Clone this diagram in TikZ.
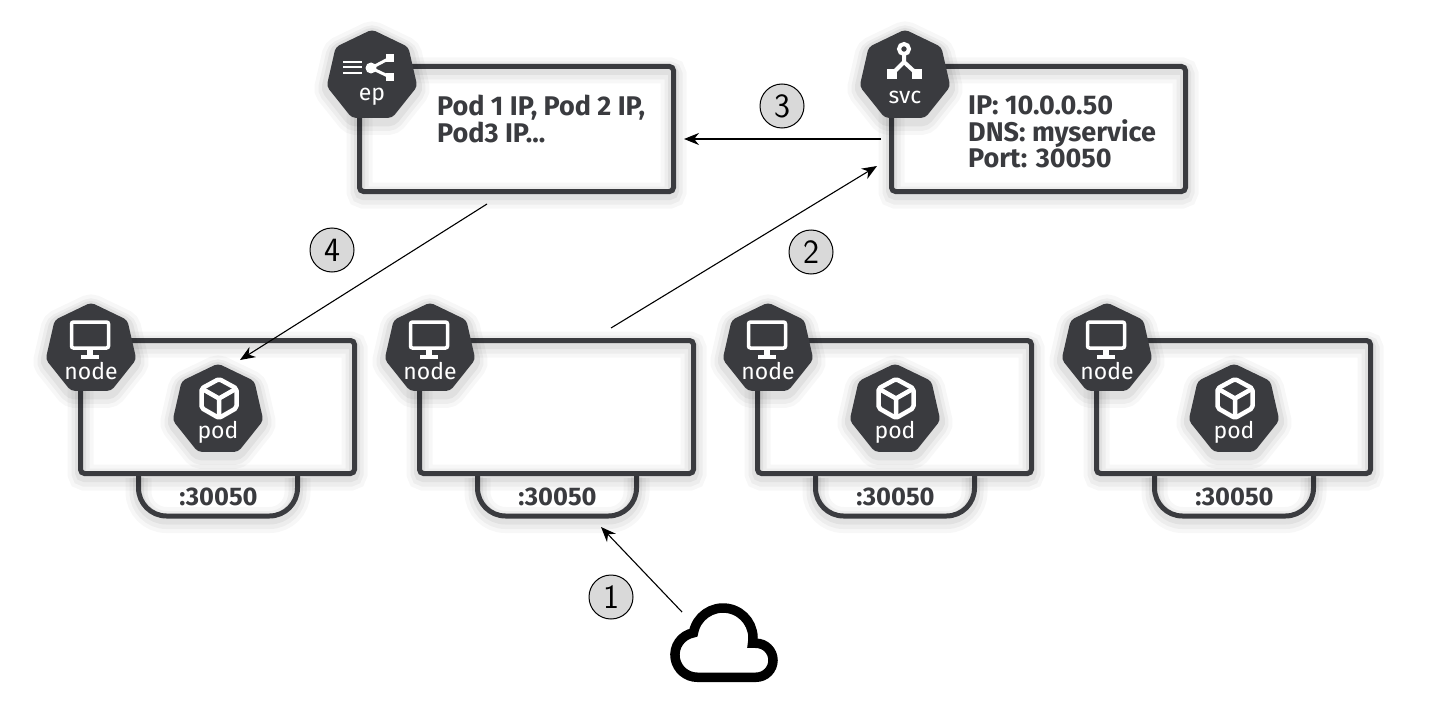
\documentclass[tikz,border=0pt]{standalone}
\usepackage{fontspec}
\setmainfont{Fira Sans}
\usetikzlibrary{arrows.meta,shapes.geometric}
\definecolor{k8sdark}{HTML}{3A3B3F}
\definecolor{stepgray}{HTML}{D9D9D9}
\tikzset{
    softshadow/.style={
        preaction={draw=black,draw opacity=.03,line width=26pt,transform canvas={yshift=-4pt}},
        preaction={draw=black,draw opacity=.04,line width=18pt,transform canvas={yshift=-4pt}},
        preaction={draw=black,draw opacity=.05,line width=11pt,transform canvas={yshift=-3pt}}},
    hostbox/.style={draw=k8sdark,preaction={fill=white},line width=5pt,rounded corners=4pt,inner sep=0pt,softshadow},
    porttab/.style={draw=k8sdark,preaction={fill=white},line width=5pt,softshadow},
    hepta/.style={regular polygon,regular polygon sides=7,minimum size=93pt,inner sep=0pt,
        fill=k8sdark,rounded corners=4pt,softshadow},
    heptatext/.style={text=white,font=\fontsize{23}{23}\selectfont,inner sep=0pt},
    infotext/.style={text=k8sdark,font=\fontsize{27}{26.5}\selectfont\bfseries,align=left,anchor=north west,inner sep=0pt},
    porttext/.style={text=k8sdark,font=\fontsize{25.5}{25.5}\selectfont\bfseries,inner sep=0pt},
    stepmark/.style={circle,draw=black,fill=stepgray,line width=1pt,minimum size=44pt,inner sep=0pt,
        font=\sffamily\fontsize{34}{34}\selectfont},
    flow/.style={-{Stealth[length=15pt,width=12pt]},line width=1.1pt,black},
    iconline/.style={draw=white,line width=4.5pt,line join=round}
}
\begin{document}
\begin{tikzpicture}[x=1pt,y=-1pt]
    \useasboundingbox (0,0) rectangle (1434,706);

    % worker machines
    \foreach \i/\x in {1/217.5,2/556.5,3/894.5,4/1233.5} {
        \draw[porttab,rounded corners=28pt] (\x-79,474) -- (\x-79,516) -- (\x+80,516) -- (\x+80,474);
        \node[hostbox,minimum width=274pt,minimum height=133pt] (host\i) at (\x,407) {};
        \node[porttext] (port\i) at (\x+1,497) {:30050};
        \node[hepta] (hept\i) at (\x-126.5,349) {};
        \node[heptatext] (lbl\i) at (\x-126.5,371) {node};
        \draw[draw=white,line width=3.5pt,rounded corners=2pt] (\x-146,322) rectangle (\x-109,348);
        \fill[white] (\x-130.5,350) rectangle (\x-124.5,355);
        \fill[white] (\x-136.5,355) rectangle (\x-118.5,358.5);
    }

    % pods
    \foreach \i/\x in {1/218,3/895,4/1234} {
        \node[hepta] (pod\i) at (\x,410) {};
        \node[heptatext] (podlbl\i) at (\x,432) {pod};
        \draw[iconline,rounded corners=2pt] (\x+1,379) -- (\x+18.5,388.5) -- (\x+18.5,408) -- (\x+1,418) -- (\x-16.5,408) -- (\x-16.5,388.5) -- cycle;
        \draw[iconline] (\x-16.5,388.5) -- (\x+1,398.5) -- (\x+18.5,388.5) (\x+1,398.5) -- (\x+1,418);
    }

    % endpoints
    \node[hostbox,minimum width=314pt,minimum height=125pt] (epbox) at (516.5,129) {};
    \node[infotext] (eptext) at (437,95) {Pod 1 IP, Pod 2 IP,\\Pod3 IP...};
    \node[hepta] (ephept) at (372,76) {};
    \node[heptatext] (eplbl) at (372,97) {ep};
    \draw[white,line width=2pt] (343,62) -- (362,62) (343,67.5) -- (362,67.5) (343,73) -- (362,73);
    \draw[white,line width=3pt] (390,58) -- (371,68) -- (390,77);
    \fill[white] (371,68) circle (5.5pt);
    \fill[white] (386,54) rectangle (394,62);
    \fill[white] (386,73) rectangle (394,81);

    % service
    \node[hostbox,minimum width=294pt,minimum height=125pt] (svcbox) at (1038.5,129) {};
    \node[infotext] (svctext) at (968,96) {IP: 10.0.0.50\\DNS: myservice\\Port: 30050};
    \node[hepta] (svchept) at (905,76) {};
    \node[heptatext] (svclbl) at (905,97) {svc};
    \draw[white,line width=4pt] (904,49) -- (904,62) (892,74) -- (904,62) -- (917,74);
    \draw[white,line width=4pt,fill=k8sdark] (904,49) circle (5pt);
    \fill[white] (887,69) rectangle (897,79);
    \fill[white] (912,69) rectangle (922,79);

    % internet
    \draw[black,line width=9.5pt,line join=miter] (730,677.25) -- (756,677.25)
        arc[start angle=90,end angle=-90,radius=17] -- (752.54,643.21)
        arc[start angle=10,end angle=-170,radius=30]
        arc[start angle=-100,end angle=-270,radius=22.4] -- cycle;
    \coordinate (cloudout) at (682,612);

    % free ends of the arrows
    \coordinate (tabin) at (601,527);
    \coordinate (hostout) at (611,328);
    \coordinate (svcin) at (877,166);
    \coordinate (svcout) at (881,139);
    \coordinate (epin) at (684,139);
    \coordinate (epout) at (487,204);
    \coordinate (podin) at (240,360);

    \draw[flow] (cloudout) -- (tabin);
    \draw[flow] (hostout) -- (svcin);
    \draw[flow] (svcout) -- (epin);
    \draw[flow] (epout) -- (podin);

    \node[stepmark] (one) at (611,597) {1};
    \node[stepmark] (two) at (811,252) {2};
    \node[stepmark] (three) at (782,106) {3};
    \node[stepmark] (four) at (332,250) {4};
\end{tikzpicture}
\end{document}
